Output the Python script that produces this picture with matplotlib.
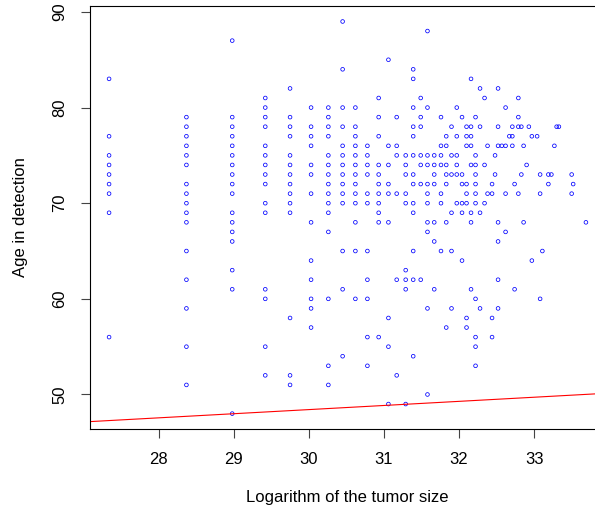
import matplotlib
matplotlib.use("Agg")
import matplotlib.pyplot as plt
import numpy as np

plt.rcParams['font.family'] = ['Liberation Sans', 'DejaVu Sans']

# log tumor size (one value per column of points) and ages at detection
log_size = [27.34, 28.37, 28.98, 29.42, 29.75, 30.03, 30.26, 30.45, 30.62, 30.78,
            30.93, 31.06, 31.17, 31.29, 31.39, 31.49, 31.58, 31.67, 31.76, 31.83,
            31.90, 31.97, 32.04, 32.10, 32.16, 32.22, 32.28, 32.34, 32.38, 32.44,
            32.48, 32.52, 32.57, 32.62, 32.67, 32.71, 32.74, 32.79, 32.83, 32.86,
            32.90, 32.93, 32.97, 33.04, 33.08, 33.11, 33.19, 33.23, 33.27, 33.30,
            33.33, 33.50, 33.52, 33.69]
ages = [
    [83, 77, 75, 74, 73, 72, 71, 69, 56],
    [79, 78, 77, 76, 75, 74, 72, 71, 70, 69, 68, 65, 62, 59, 55, 51],
    [87, 79, 78, 77, 76, 75, 74, 73, 72, 71, 69, 68, 67, 66, 63, 61, 48],
    [81, 80, 79, 78, 76, 75, 74, 73, 72, 70, 69, 61, 60, 55, 52],
    [82, 79, 78, 77, 75, 74, 73, 72, 71, 70, 69, 58, 52, 51],
    [80, 78, 77, 76, 74, 73, 71, 68, 64, 62, 60, 59, 57],
    [80, 79, 78, 77, 75, 74, 73, 72, 71, 70, 69, 67, 60, 53, 51],
    [89, 84, 80, 78, 76, 75, 74, 73, 72, 71, 70, 65, 61, 54],
    [80, 78, 77, 76, 75, 74, 73, 72, 71, 70, 68, 65, 60],
    [76, 75, 74, 73, 71, 70, 65, 62, 60, 56, 53],
    [81, 79, 77, 74, 73, 72, 71, 70, 69, 68, 56],
    [85, 76, 74, 72, 71, 68, 58, 55, 49],
    [79, 76, 75, 71, 62, 52],
    [75, 74, 73, 71, 70, 63, 62, 61, 49],
    [84, 83, 80, 78, 77, 75, 73, 72, 70, 69, 65, 62, 54],
    [81, 79, 78, 75, 74, 72, 62],
    [88, 80, 75, 74, 72, 71, 70, 68, 67, 59, 50],
    [75, 74, 73, 72, 68, 66, 61],
    [79, 76, 75, 74, 71, 70, 65],
    [77, 76, 74, 73, 72, 68, 57],
    [78, 75, 73, 69, 65, 59],
    [80, 77, 75, 74, 73, 70],
    [79, 73, 72, 70, 69, 64],
    [78, 77, 76, 72, 71, 70, 58, 57],
    [83, 78, 77, 76, 74, 69, 68, 61],
    [79, 75, 74, 73, 72, 71, 70, 60, 56, 55, 53],
    [82, 78, 69, 59],
    [81, 74, 70],
    [76, 71],
    [72, 71, 58, 56],
    [75, 73],
    [82, 78, 76, 68, 66, 62, 59],
    [76],
    [80, 76, 71, 67],
    [77],
    [78, 77, 76],
    [72, 61],
    [81, 79, 78, 71],
    [78, 73],
    [76, 68],
    [74],
    [78],
    [77, 64],
    [77],
    [73, 71, 60],
    [65],
    [73, 72],
    [73],
    [76],
    [78],
    [78],
    [73, 71],
    [72],
    [68],
]

# fitted line (red)
line_intercept = 35.49
line_slope = 0.431

x_ticks = [28, 29, 30, 31, 32, 33]
y_ticks = [50, 60, 70, 80, 90]

x = np.concatenate([[v] * len(a) for v, a in zip(log_size, ages)])
y = np.concatenate(ages)

fig = plt.figure(figsize=(5.95, 5.14), dpi=100)
ax = fig.add_axes([90 / 595, 1 - 429.3 / 514, 515 / 595, 423.5 / 514])

ax.scatter(x, y, s=7, facecolors='none', edgecolors='#0000ff', linewidths=0.55)
ax.axline((0, line_intercept), slope=line_slope, color='red', lw=0.8)

xmin, xmax = min(log_size), max(log_size)
ymin, ymax = y.min(), y.max()
ax.set_xlim(xmin - 0.04 * (xmax - xmin), xmax + 0.04 * (xmax - xmin))
ax.set_ylim(ymin - 0.04 * (ymax - ymin), ymax + 0.04 * (ymax - ymin))

ax.set_xticks(x_ticks)
ax.set_yticks(y_ticks)
ax.tick_params(length=6.5, width=0.8, color='#444444', labelsize=12, pad=10)
plt.setp(ax.get_yticklabels(), rotation=90, va='center')
for s in ax.spines.values():
    s.set_linewidth(0.8)

ax.set_xlabel("Logarithm of the tumor size", fontsize=12)
ax.set_ylabel("Age in detection", fontsize=12)
ax.xaxis.set_label_coords(0.5, -0.16)
ax.xaxis.label.set_verticalalignment('center')
ax.yaxis.set_label_coords(-0.134, 0.5)
ax.yaxis.label.set_verticalalignment('center')

fig.savefig("out.png", dpi=100)
